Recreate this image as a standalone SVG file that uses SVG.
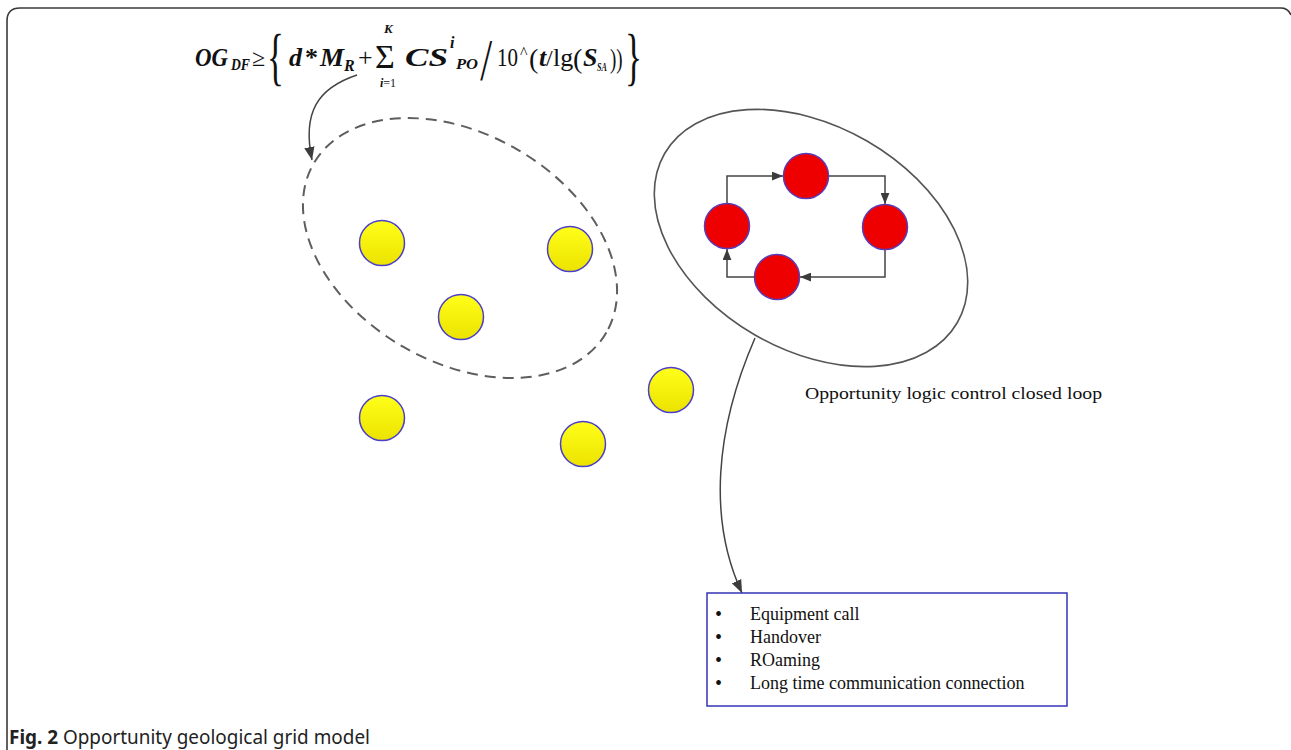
<svg xmlns="http://www.w3.org/2000/svg" width="1291" height="750" viewBox="0 0 1291 750">
<style>
.frame{fill:none;stroke:#3a3a3a;stroke-width:1.6}
.f{font-family:"Liberation Serif","Times New Roman",serif;fill:#111}
.bi{font-style:italic;font-weight:bold}
.yel{fill:url(#yg);stroke:#4a3fc8;stroke-width:1.5}
.red{fill:#ee0000;stroke:#5a3ab8;stroke-width:1.5}
.con{fill:none;stroke:#444;stroke-width:1.5}
.lbl{font-family:"Liberation Serif","Times New Roman",serif;fill:#111}
</style>
<defs>
<linearGradient id="yg" x1="0" y1="0" x2="0" y2="1">
<stop offset="0" stop-color="#ffff1a"/>
<stop offset="1" stop-color="#ece200"/>
</linearGradient>
<marker id="ah" viewBox="0 0 10 8" refX="10" refY="4" markerWidth="11" markerHeight="9" markerUnits="userSpaceOnUse" orient="auto">
<path d="M0,0 L10,4 L0,8 z" fill="#3c3c3c"/>
</marker>
<marker id="ahb" viewBox="0 0 10 8" refX="10" refY="4" markerWidth="13" markerHeight="11" markerUnits="userSpaceOnUse" orient="auto">
<path d="M0,0 L10,4 L0,8 z" fill="#3c3c3c"/>
</marker>
</defs>
<rect width="1291" height="750" fill="#fff"/>
<path class="frame" d="M7,752 V21 Q7,8 20,8 H1281 Q1288,8 1291,15"/>

<g id="formula">
<text class="f bi" x="195" y="66" font-size="26" textLength="33" lengthAdjust="spacingAndGlyphs">OG</text>
<text class="f bi" x="231" y="70" font-size="16" textLength="19" lengthAdjust="spacingAndGlyphs">DF</text>
<text class="f" x="252" y="66" font-size="24">≥</text>
<text class="f" transform="translate(267,78) scale(0.8,1.45)" font-size="44">{</text>
<text class="f bi" x="289" y="66" font-size="26">d</text>
<text class="f" x="305" y="66" font-size="26" font-weight="bold">*</text>
<text class="f bi" x="320" y="66" font-size="26" textLength="24" lengthAdjust="spacingAndGlyphs">M</text>
<text class="f bi" x="344" y="71" font-size="16">R</text>
<text class="f" x="358" y="66" font-size="26">+</text>
<text class="f" x="375" y="68" font-size="34">Σ</text>
<text class="f bi" x="384" y="33" font-size="13">K</text>
<text class="f" x="380" y="87" font-size="12"><tspan font-style="italic" font-weight="bold">i</tspan>=1</text>
<text class="f bi" x="405" y="66" font-size="26" textLength="43" lengthAdjust="spacingAndGlyphs">CS</text>
<text class="f bi" x="450" y="48" font-size="16">i</text>
<text class="f bi" x="456" y="69" font-size="14" textLength="22" lengthAdjust="spacingAndGlyphs">PO</text>
<text class="f bi" transform="translate(482,80) scale(0.65,1.35)" font-size="44">/</text>
<text class="f" x="497" y="66" font-size="25" textLength="21" lengthAdjust="spacingAndGlyphs">10</text>
<text class="f" x="520" y="58" font-size="16">^</text>
<text class="f" x="529" y="68" font-size="28">(</text>
<text class="f bi" x="539" y="66" font-size="26">t</text>
<text class="f" x="546" y="66" font-size="24">/</text>
<text class="f" x="553" y="66" font-size="26">lg</text>
<text class="f" x="573" y="68" font-size="28">(</text>
<text class="f bi" x="583" y="66" font-size="26">S</text>
<text class="f bi" x="597" y="71" font-size="12" textLength="10" lengthAdjust="spacingAndGlyphs">SA</text>
<text class="f" transform="translate(610,68) scale(0.68,1)" font-size="28">))</text>
<text class="f" transform="translate(625,78) scale(0.8,1.45)" font-size="44">}</text>
</g>

<g id="group-dashed">
<ellipse cx="460" cy="248" rx="169" ry="114" transform="rotate(30 460 248)" fill="none" stroke="#5e5e5e" stroke-width="2" stroke-dasharray="11 7"/>
</g>
<g id="group-loop">
<ellipse cx="811" cy="238" rx="169" ry="112" transform="rotate(30 811 238)" fill="none" stroke="#555" stroke-width="1.6"/>
</g>

<g id="yellow-nodes">
<circle id="y1" class="yel" cx="382" cy="243" r="22.5"/>
<circle id="y2" class="yel" cx="570" cy="249" r="22.5"/>
<circle id="y3" class="yel" cx="461" cy="317" r="22.5"/>
<circle id="y4" class="yel" cx="382" cy="418" r="22.5"/>
<circle id="y5" class="yel" cx="583" cy="444" r="22.5"/>
<circle id="y6" class="yel" cx="671" cy="390" r="22.5"/>
</g>

<g id="red-nodes">
<circle id="r-top" class="red" cx="806" cy="176" r="22.5"/>
<circle id="r-right" class="red" cx="885" cy="227" r="22.5"/>
<circle id="r-bottom" class="red" cx="777" cy="277" r="22.5"/>
<circle id="r-left" class="red" cx="727" cy="226" r="22.5"/>
</g>

<g id="connectors">
<path class="con" d="M357,75 C318,88 302,112 312,160" marker-end="url(#ahb)"/>
<path class="con" d="M727,203 V176 H783" marker-end="url(#ah)"/>
<path class="con" d="M829,176 H885 V204" marker-end="url(#ah)"/>
<path class="con" d="M885,250 V277 H800" marker-end="url(#ah)"/>
<path class="con" d="M755,277 H727 V249" marker-end="url(#ah)"/>
<path class="con" d="M755,338 C715,430 708,520 742,593" marker-end="url(#ahb)"/>
</g>

<g id="loop-label">
<text class="lbl" x="805" y="399" font-size="17" textLength="297" lengthAdjust="spacingAndGlyphs">Opportunity logic control closed loop</text>
</g>

<g id="list-box">
<rect x="707" y="593" width="360" height="113" fill="#fff" stroke="#3434b8" stroke-width="1.5"/>
<g class="lbl" font-size="18">
<text x="715" y="621" font-size="20">•</text><text x="750" y="620">Equipment call</text>
<text x="715" y="644" font-size="20">•</text><text x="750" y="643">Handover</text>
<text x="715" y="667" font-size="20">•</text><text x="750" y="666">ROaming</text>
<text x="715" y="690" font-size="20">•</text><text x="750" y="689">Long time communication connection</text>
</g>
</g>

<g id="caption">
<text x="9" y="744" font-family="'Noto Sans','Open Sans',sans-serif" font-size="19" fill="#222" textLength="361" lengthAdjust="spacingAndGlyphs"><tspan font-weight="bold">Fig. 2</tspan> Opportunity geological grid model</text>
</g>
</svg>
